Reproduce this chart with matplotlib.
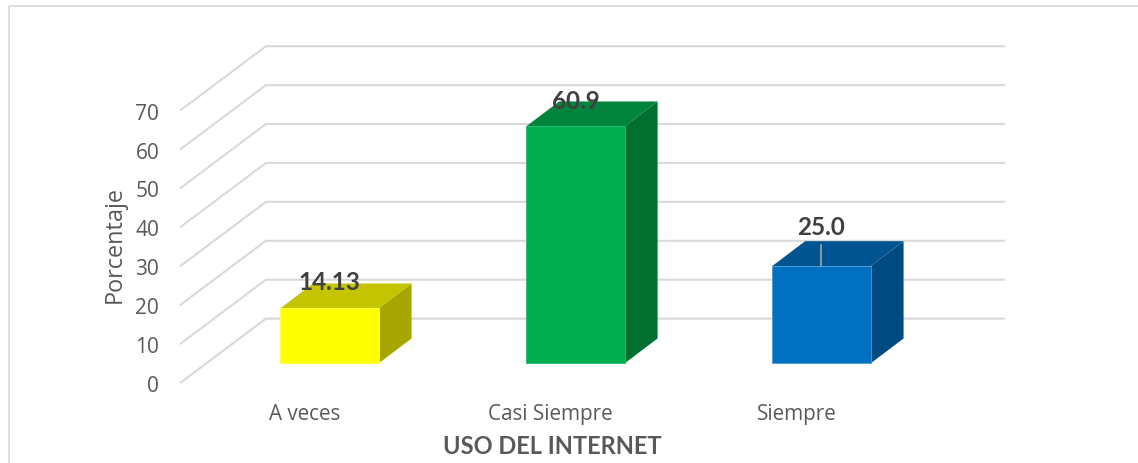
import matplotlib
matplotlib.use('Agg')
import matplotlib.pyplot as plt
from matplotlib.lines import Line2D
from matplotlib.patches import Polygon

categories = ['A veces', 'Casi Siempre', 'Siempre']
values = [14.13, 60.9, 25.0]
value_labels = ['14.13', '60.9', '25.0']
y_ticks = [0, 10, 20, 30, 40, 50, 60, 70]

front_colors = ['#FFFF00', '#00B050', '#0070C0']
top_colors = ['#C4C400', '#00843C', '#005490']
side_colors = ['#A6A600', '#006F30', '#004A80']
edge_colors = ['#FFFF40', '#20BC68', '#4A9AD6']

GREY = '#595959'
GRID = '#D9D9D9'

# one category is 246 px wide, one percent is 3.9 px high
BAR_W = 0.40
DEPTH_X = 0.134
DEPTH_Y = 6.4
GRID_FRONT_X = -0.604
GRID_BACK_X = -0.258
GRID_RIGHT_X = 2.742
GRID_FRONT_DY = -4.9
GRID_BACK_DY = 11.5
# gap between bar top and its label, the last one has a leader line
LABEL_GAPS = [3.9, 3.6, 7.2]


def draw_bar(ax, x, value, front, top, side, edge):
    left = x - BAR_W / 2
    right = x + BAR_W / 2
    ax.add_patch(Polygon([(right, 0), (right + DEPTH_X, DEPTH_Y),
                          (right + DEPTH_X, value + DEPTH_Y), (right, value)],
                         facecolor=side, edgecolor='none', zorder=3))
    ax.add_patch(Polygon([(left, value), (right, value),
                          (right + DEPTH_X, value + DEPTH_Y),
                          (left + DEPTH_X, value + DEPTH_Y)],
                         facecolor=top, edgecolor='none', zorder=3))
    ax.add_patch(Polygon([(left, 0), (right, 0), (right, value), (left, value)],
                         facecolor=front, edgecolor=edge, lw=0.6, zorder=4))


fig = plt.figure(figsize=(11.38, 4.64), dpi=100)
ax = fig.add_axes([0, 0, 1, 1])
ax.set_xlim(-1.339, 3.287)
ax.set_ylim(-25.6, 93.63)
ax.axis('off')

for tick in y_ticks:
    ax.plot([GRID_FRONT_X, GRID_BACK_X, GRID_RIGHT_X],
            [tick + GRID_FRONT_DY, tick + GRID_BACK_DY, tick + GRID_BACK_DY],
            color=GRID, lw=1.5, zorder=1, solid_joinstyle='miter')
    ax.text(-0.692, tick - 5.7, str(tick), ha='right', va='center',
            family='Open Sans', fontsize=15, color=GREY)

for i, value in enumerate(values):
    draw_bar(ax, i, value, front_colors[i], top_colors[i], side_colors[i],
             edge_colors[i])
    ax.text(i, value + LABEL_GAPS[i], value_labels[i],
            ha='center', va='bottom', family='Lato', weight='bold',
            fontsize=17.5, color='#404040', zorder=6)
    ax.text(i - 0.1, -12.9, categories[i], ha='center', va='center',
            family='Open Sans', fontsize=14.9, color=GREY)

# leader line of the last label
ax.plot([2, 2], [values[2], values[2] + 5.4], color='#A6A6A6', lw=1.2, zorder=5)

ax.text(0.905, -21.1, 'USO DEL INTERNET', ha='center', va='center',
        family='Lato', weight='bold', fontsize=17, color=GREY)
ax.text(-0.873, 30.9, 'Porcentaje', rotation=90, ha='center', va='center',
        family='Open Sans', fontsize=16.9, color=GREY)

fig.add_artist(Line2D([8.5 / 1138, 8.5 / 1138, 1], [0, 1 - 6.5 / 464, 1 - 6.5 / 464],
                      color=GRID, lw=1.2))

fig.savefig('out.png', dpi=100)
